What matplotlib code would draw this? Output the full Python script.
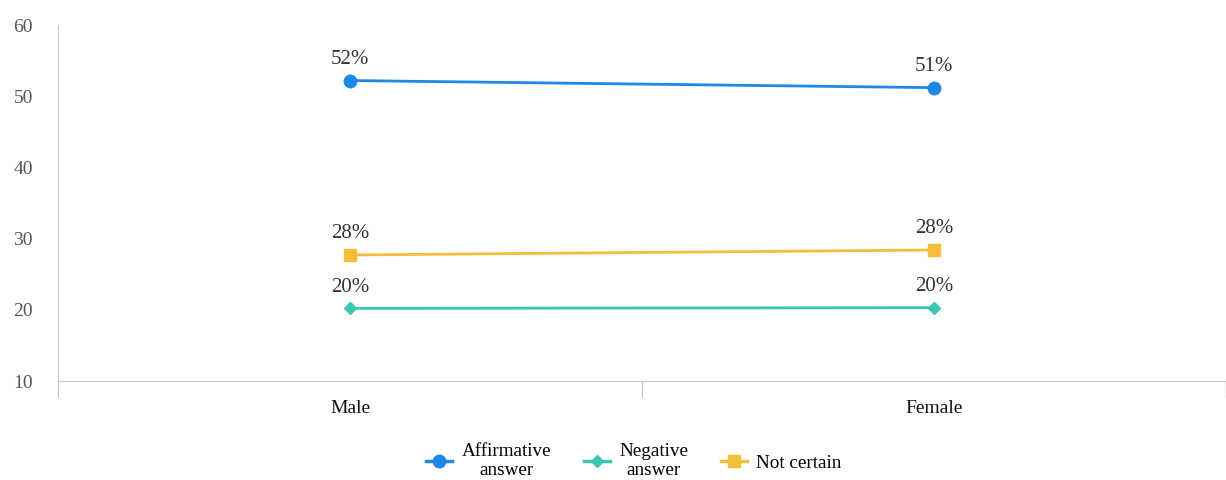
import matplotlib
matplotlib.use("Agg")
import matplotlib.pyplot as plt
from matplotlib.lines import Line2D

categories = ["Male", "Female"]
affirmative = [52.2, 51.2]
negative = [20.2, 20.3]
not_certain = [27.7, 28.4]
labels_aff = ["52%", "51%"]
labels_neg = ["20%", "20%"]
labels_nc = ["28%", "28%"]
yticks = [10, 20, 30, 40, 50, 60]

plt.rcParams['font.family'] = ['Liberation Serif', 'DejaVu Serif']

W, H = 1226, 480
fig = plt.figure(figsize=(W/100, H/100), dpi=100)
left = 58 / W
right = 1.0
bottom = 1 - 381 / H
top = 1 - 25 / H
ax = fig.add_axes([left, bottom, right - left, top - bottom])

c_aff = "#1E88E5"
c_neg = "#3CC8B0"
c_nc = "#F5BE3A"

x = list(range(len(categories)))
ax.plot(x, affirmative, color=c_aff, lw=2, marker='o', ms=9, zorder=3)
ax.plot(x, negative, color=c_neg, lw=2, marker='D', ms=6, zorder=3)
ax.plot(x, not_certain, color=c_nc, lw=2, marker='s', ms=9, zorder=3)

for series, labs in [(affirmative, labels_aff), (negative, labels_neg), (not_certain, labels_nc)]:
    for xi, yi, lab in zip(x, series, labs):
        ax.annotate(lab, (xi, yi), xytext=(0, 8.5), textcoords='offset points',
                    ha='center', va='bottom', fontsize=15, color='#333333')

ax.set_xlim(-0.5, 1.475)
ax.set_ylim(10, 60)
ax.set_yticks(yticks)
ax.set_yticklabels([str(t) for t in yticks])
ax.tick_params(axis='y', length=0, pad=18, labelsize=14, labelcolor='#555555')

ax.set_xticks(x)
ax.set_xticklabels(categories)
ax.tick_params(axis='x', which='major', length=0, pad=14, labelsize=14, labelcolor='#111111')
ax.set_xticks([-0.5, 0.5, 1.5], minor=True)
ax.tick_params(axis='x', which='minor', length=12, width=1, color='#c8c8c8', direction='out')

for s in ['top', 'right']:
    ax.spines[s].set_visible(False)
ax.spines['left'].set_color('#c8c8c8')
ax.spines['bottom'].set_color('#c8c8c8')
ax.spines['left'].set_bounds(10, 60)

handles = [
    Line2D([0], [0], color=c_aff, lw=2.5, marker='o', ms=9),
    Line2D([0], [0], color=c_neg, lw=2.5, marker='D', ms=6),
    Line2D([0], [0], color=c_nc, lw=2.5, marker='s', ms=9),
]
leg = fig.legend(handles, ["Affirmative\nanswer", "Negative\nanswer", "Not certain"],
                 loc='center', bbox_to_anchor=(634 / W, 1 - 461 / H), ncol=3, frameon=False,
                 fontsize=13.8, handlelength=1.35, columnspacing=1.7, handletextpad=0.5,
                 labelspacing=0.1, borderpad=0)
for t in leg.get_texts():
    t.set_multialignment('center')
    t.set_linespacing(1.1)

fig.savefig("out.png", dpi=100)
